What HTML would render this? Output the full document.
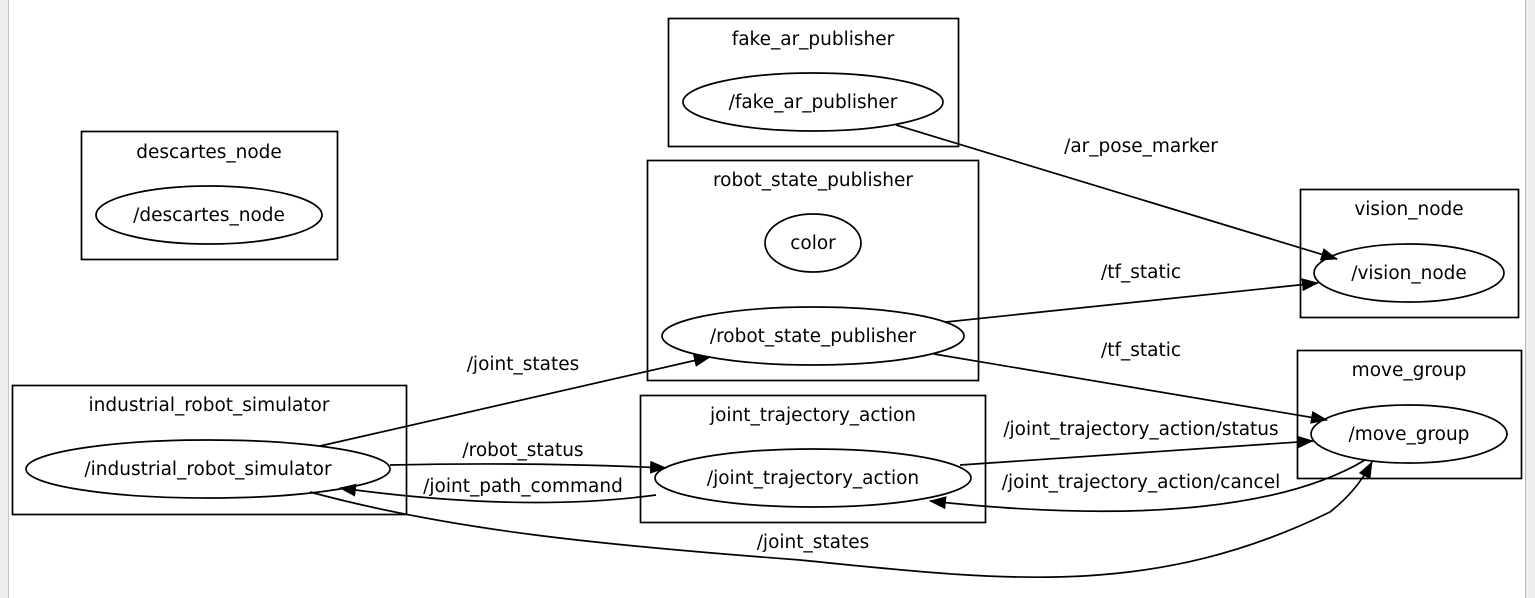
<!DOCTYPE html>
<html><head><meta charset="utf-8"><style>
html,body{margin:0;padding:0;background:#fff;}
svg{display:block;}
text{font-family:"DejaVu Sans","Liberation Sans",sans-serif;font-size:18.5px;text-anchor:middle;fill:#000;}
</style></head><body>
<svg width="1535" height="598" viewBox="0 0 1535 598" xmlns="http://www.w3.org/2000/svg">
<defs>
<marker id="a" markerWidth="17" markerHeight="13" refX="16" refY="6.5" orient="auto" markerUnits="userSpaceOnUse">
<path d="M0,0 L17,6.5 L0,13 Z" fill="#000"/>
</marker>
</defs>
<rect x="0" y="0" width="1535" height="598" fill="#fff"/>
<rect x="0" y="0" width="8" height="598" fill="#efeeec"/>
<line x1="8.5" y1="0" x2="8.5" y2="598" stroke="#c8c6c2"/>
<rect x="1526" y="0" width="9" height="598" fill="#efeeec"/>
<line x1="1525.5" y1="0" x2="1525.5" y2="598" stroke="#b8b6b2"/>
<g fill="none" stroke="#000" stroke-width="1.7">
<rect x="81.5" y="131.5" width="256" height="128"/>
<ellipse cx="209" cy="215" rx="113" ry="29"/>
<rect x="668.5" y="18.5" width="290" height="128"/>
<ellipse cx="813" cy="102" rx="130" ry="29"/>
<rect x="647.5" y="160.5" width="331" height="220"/>
<ellipse cx="813" cy="243" rx="48" ry="29"/>
<ellipse cx="813" cy="336" rx="151" ry="29"/>
<rect x="1300.5" y="189.5" width="218" height="128"/>
<ellipse cx="1409" cy="273" rx="95" ry="29"/>
<rect x="1297.5" y="350.5" width="224" height="128"/>
<ellipse cx="1409" cy="434" rx="98" ry="29"/>
<rect x="12.5" y="385.5" width="394" height="129"/>
<ellipse cx="208" cy="469" rx="182" ry="29"/>
<rect x="640.5" y="395.5" width="345" height="127"/>
<ellipse cx="813" cy="478" rx="158" ry="29"/>

<path d="M896,125 L1337,259" marker-end="url(#a)"/>
<path d="M946,322 L1318,283" marker-end="url(#a)"/>
<path d="M934,354 L1327,420" marker-end="url(#a)"/>
<path d="M320,446 L710,357" marker-end="url(#a)"/>
<path d="M390,465 C480,463 580,464 666,468" marker-end="url(#a)"/>
<path d="M656,495 C560,508 450,503 340,488" marker-end="url(#a)"/>
<path d="M960,465 L1313,441" marker-end="url(#a)"/>
<path d="M1365,460 C1290,505 1150,525 930,501" marker-end="url(#a)"/>
<path d="M310,492 C450,530 600,545 800,560 C1000,580 1150,600 1330,512 C1345,500 1360,485 1372,462" marker-end="url(#a)"/>
</g>
<text x="209" y="158">descartes_node</text>
<text x="209" y="221">/descartes_node</text>
<text x="813" y="45">fake_ar_publisher</text>
<text x="813" y="108">/fake_ar_publisher</text>
<text x="813" y="186">robot_state_publisher</text>
<text x="813" y="249">color</text>
<text x="813" y="342">/robot_state_publisher</text>
<text x="1409" y="215">vision_node</text>
<text x="1409" y="279">/vision_node</text>
<text x="1409" y="376">move_group</text>
<text x="1409" y="440">/move_group</text>
<text x="209" y="411">industrial_robot_simulator</text>
<text x="208" y="475">/industrial_robot_simulator</text>
<text x="813" y="421">joint_trajectory_action</text>
<text x="813" y="484">/joint_trajectory_action</text>
<text x="1141" y="152">/ar_pose_marker</text>
<text x="1141" y="278">/tf_static</text>
<text x="1141" y="356">/tf_static</text>
<text x="523" y="370">/joint_states</text>
<text x="523" y="456">/robot_status</text>
<text x="523" y="492">/joint_path_command</text>
<text x="1141" y="435">/joint_trajectory_action/status</text>
<text x="1141" y="488">/joint_trajectory_action/cancel</text>
<text x="813" y="548">/joint_states</text>
</svg>
</body></html>
